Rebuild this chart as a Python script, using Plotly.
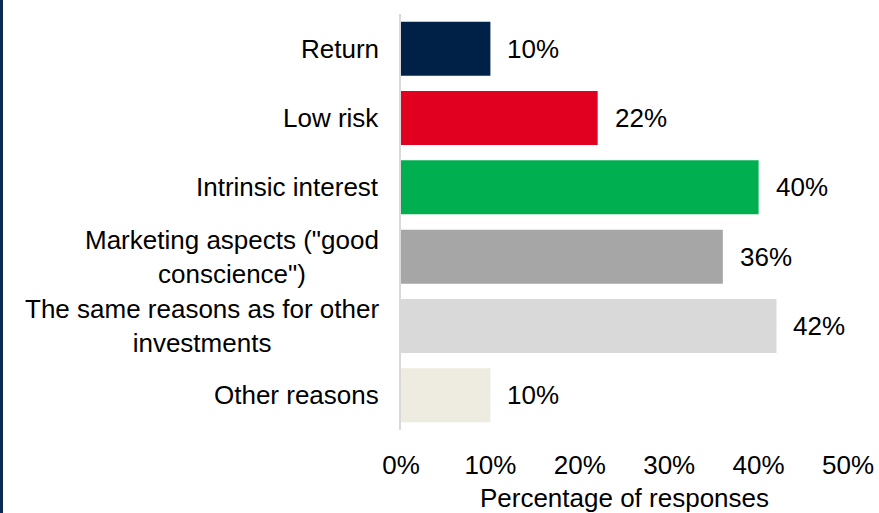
import plotly.graph_objects as go

categories = ["Return", "Low risk", "Intrinsic interest",
              "Marketing aspects (\"good<br>conscience\")",
              "The same reasons as for other<br>investments", "Other reasons"]
values = [10, 22, 40, 36, 42, 10]
colors = ["#002147", "#E10020", "#00B050", "#A6A6A6", "#D9D9D9", "#EEECE1"]
tick_vals = [0, 10, 20, 30, 40, 50]
tick_text = ["0%", "10%", "20%", "30%", "40%", "50%"]

W, H = 879, 513
ML, MR, MT, MB = 401, 31, 14, 83
PW, PH = W - ML - MR, H - MT - MB
FONT = "Liberation Sans, Arial, sans-serif"
FS = 26

fig = go.Figure(go.Bar(
    y=list(range(len(categories))), x=values, orientation="h",
    marker=dict(color=colors, line=dict(width=0)),
    hoverinfo="skip",
))

annotations = []
for i, (c, v) in enumerate(zip(categories, values)):
    annotations.append(dict(x=v, y=i, xref="x", yref="y", text=f"{v}%",
                            showarrow=False, xanchor="left", xshift=15,
                            font=dict(family=FONT, size=FS, color="#000000")))
    annotations.append(dict(x=0, y=i, xref="paper", yref="y", text=c,
                            showarrow=False, xanchor="right", align="center",
                            xshift=-20, font=dict(family=FONT, size=FS, color="#000000")))

fig.update_layout(
    width=W, height=H,
    margin=dict(l=ML, r=MR, t=MT, b=MB, pad=0, autoexpand=False),
    plot_bgcolor="white", paper_bgcolor="white",
    bargap=0.22, showlegend=False,
    font=dict(family=FONT, size=FS, color="#000000"),
    xaxis=dict(range=[0, 50], tickvals=tick_vals, ticktext=tick_text,
               showgrid=False, zeroline=False, showline=False, automargin=False,
               ticklabelstandoff=17,
               title=dict(text="Percentage of responses", standoff=13,
                          font=dict(family=FONT, size=FS))),
    yaxis=dict(range=[len(categories) - 0.5, -0.5], showticklabels=False,
               showgrid=False, zeroline=False, automargin=False,
               showline=True, linecolor="#D9D9D9", linewidth=2),
    annotations=annotations,
    shapes=[dict(type="rect", xref="paper", yref="paper",
                 x0=-2, x1=-(ML - 3) / PW,
                 y0=-MB / PH - 0.1, y1=1 + MT / PH + 0.1,
                 fillcolor="#0B2B55", line=dict(width=0), layer="above")],
)

fig.write_html("out.html")
